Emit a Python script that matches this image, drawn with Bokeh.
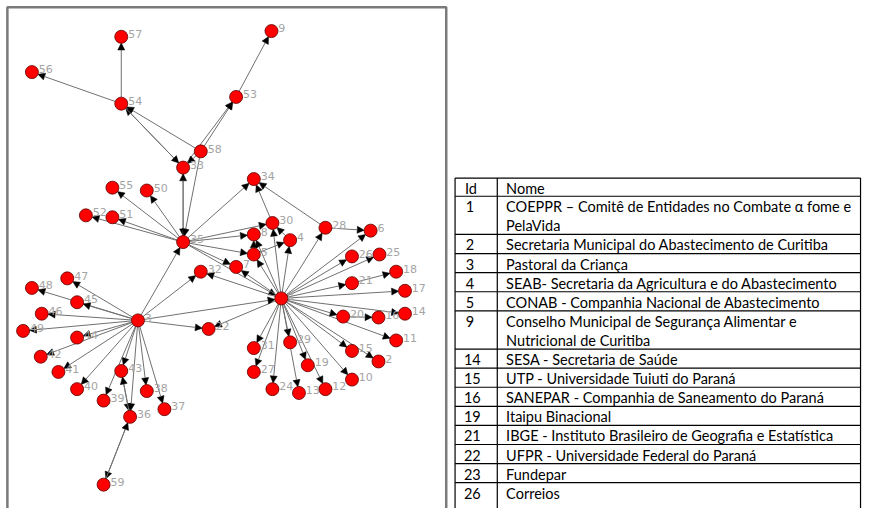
from bokeh.plotting import figure
from bokeh.models import Range1d, ColumnDataSource, Arrow, NormalHead
from bokeh.core.properties import value
from bokeh.embed import file_html
from bokeh.resources import INLINE
import math

# ---------------- data ----------------
node_ids = [9, 57, 56, 54, 53, 58, 33, 34, 55, 50, 52, 51, 35, 30, 8, 4, 28, 6, 5, 7,
            26, 25, 32, 21, 18, 17, 1, 20, 16, 14, 11, 22, 3, 47, 48, 45, 46, 49, 44,
            42, 41, 40, 43, 39, 38, 37, 36, 59, 31, 29, 27, 19, 24, 13, 12, 15, 10, 2]
node_x = [276, 123, 32, 123, 240, 204, 186, 258, 114, 149, 87, 114, 186, 277, 258, 295, 331, 377, 258, 240,
          358, 386, 204, 358, 403, 412, 286, 349, 385, 412, 403, 212, 140, 68, 32, 78, 42, 23, 78,
          41, 59, 78, 123, 105, 149, 167, 132, 105, 258, 295, 258, 313, 277, 304, 331, 358, 358, 385]
node_y = [32, 38, 75, 108, 101, 158, 175, 187, 196, 199, 225, 227, 253, 233, 245, 251, 238, 241, 266, 279,
          268, 266, 284, 296, 284, 304, 312, 331, 332, 328, 356, 344, 335, 291, 301, 316, 328, 346, 353,
          373, 389, 407, 388, 419, 409, 428, 436, 507, 364, 358, 389, 382, 407, 411, 407, 367, 397, 378]

edge_src = [53, 54, 54, 58, 33, 54, 58, 33, 58, 33, 35, 58,
            35, 35, 35, 35, 35, 35, 35, 35, 35, 35,
            28, 30, 4, 5, 5,
            1, 1, 1, 1, 1, 1, 28, 1, 1, 1, 1, 21, 1, 1, 20, 1, 1, 1, 1,
            1, 1, 1, 1, 1, 1, 1, 1, 1, 1,
            3, 3, 3, 3, 3, 3, 3, 3, 3, 3, 3, 3, 3, 3, 3, 3, 3, 3, 43, 36, 36, 59]
edge_dst = [9, 57, 56, 54, 54, 33, 53, 53, 33, 35, 33, 35,
            55, 50, 52, 51, 34, 8, 5, 7, 30, 1,
            34, 34, 30, 4, 8,
            7, 5, 8, 30, 4, 28, 6, 6, 26, 25, 21, 18, 17, 20, 16, 14, 11, 15, 2,
            10, 12, 19, 13, 29, 24, 27, 31, 22, 32,
            1, 35, 32, 22, 47, 48, 45, 46, 49, 44, 42, 41, 40, 43, 39, 38, 37, 36, 36, 43, 59, 36]

table_ids = ["1", "2", "3", "4", "5", "9", "14", "15", "16", "19", "21", "22", "23", "26"]
table_names = [
    ["COEPPR \u2013 Comit\u00ea de Entidades no Combate \u03b1 fome e", "PelaVida"],
    ["Secretaria Municipal do Abastecimento de Curitiba"],
    ["Pastoral da Crian\u00e7a"],
    ["SEAB- Secretaria  da Agricultura e do Abastecimento"],
    ["CONAB - Companhia Nacional de Abastecimento"],
    ["Conselho Municipal de Seguran\u00e7a Alimentar e", "Nutricional de Curitiba"],
    ["SESA - Secretaria de Sa\u00fade"],
    ["UTP - Universidade Tuiuti do Paran\u00e1"],
    ["SANEPAR - Companhia de Saneamento do Paran\u00e1"],
    ["Itaipu Binacional"],
    ["IBGE - Instituto Brasileiro de Geografia e Estat\u00edstica"],
    ["UFPR - Universidade Federal do Paran\u00e1"],
    ["Fundepar"],
    ["Correios"],
]

# ---------------- figure ----------------
p = figure(width=862, height=508, x_range=Range1d(0, 878), y_range=Range1d(532, 0),
           output_backend="svg", toolbar_location=None, min_border=0)
p.axis.visible = False
p.grid.visible = False
p.outline_line_color = None
p.background_fill_color = "white"

# network frame
p.quad(left=[7], right=[454], top=[7], bottom=[560], fill_color=None,
       line_color="#7a7a7a", line_width=2.5)

pos = {n: (x, y) for n, x, y in zip(node_ids, node_x, node_y)}
R = 6.5
xs, ys, xe, ye = [], [], [], []
for s, d in zip(edge_src, edge_dst):
    x0, y0 = pos[s]
    x1, y1 = pos[d]
    L = math.hypot(x1 - x0, y1 - y0)
    ux, uy = (x1 - x0) / L, (y1 - y0) / L
    xs.append(x0 + ux * R); ys.append(y0 + uy * R)
    xe.append(x1 - ux * R); ye.append(y1 - uy * R)
esrc = ColumnDataSource(dict(x_start=xs, y_start=ys, x_end=xe, y_end=ye))
arrow = Arrow(source=esrc, line_color="#707070", line_width=1, level="underlay",
              end=NormalHead(size=7, fill_color="black", line_color="black", line_width=0.5))
p.add_layout(arrow)

nsrc = ColumnDataSource(dict(x=node_x, y=node_y, lab=[str(n) for n in node_ids],
                             lx=[x + 7 for x in node_x], ly=[y - 3 for y in node_y]))
p.scatter("x", "y", source=nsrc, size=13, fill_color="#ff0000", line_color="#5a0000", line_width=0.8)
p.text("lx", "ly", text="lab", source=nsrc, text_font=value("DejaVu Sans"),
       text_font_size="11px", text_color="#a4a4a4", text_baseline="middle", text_align="left")

# ---------------- table ----------------
TL, TC, TR = 463, 506, 876
top = 186
head_h = 19
line_h = 20
row_tops = []
y = top + head_h
for names in table_names:
    row_tops.append(y)
    y += line_h * len(names)
row_bottoms = row_tops[1:] + [y]

hy = [top, top + head_h] + row_bottoms[:-1]
p.segment(x0=[TL] * len(hy), y0=hy, x1=[TR] * len(hy), y1=hy, line_color="black", line_width=1.2)
p.segment(x0=[TL, TC, TR], y0=[top] * 3, x1=[TL, TC, TR], y1=[y + 10] * 3,
          line_color="black", line_width=1.2)

tx, ty, tt = [473, 515], [top + head_h / 2 + 1] * 2, ["Id", "Nome"]
for rid, names, rt in zip(table_ids, table_names, row_tops):
    tx.append(472 if len(rid) == 2 else 474)
    ty.append(rt + line_h / 2 + 1)
    tt.append(rid)
    for k, nm in enumerate(names):
        tx.append(515)
        ty.append(rt + line_h * k + line_h / 2 + 1)
        tt.append(nm)
p.text(x=tx, y=ty, text=tt, text_font=value("Lato"), text_font_size="14.5px",
       text_color="black", text_baseline="middle", text_align="left")

open("out.html", "w").write(file_html(p, INLINE))
